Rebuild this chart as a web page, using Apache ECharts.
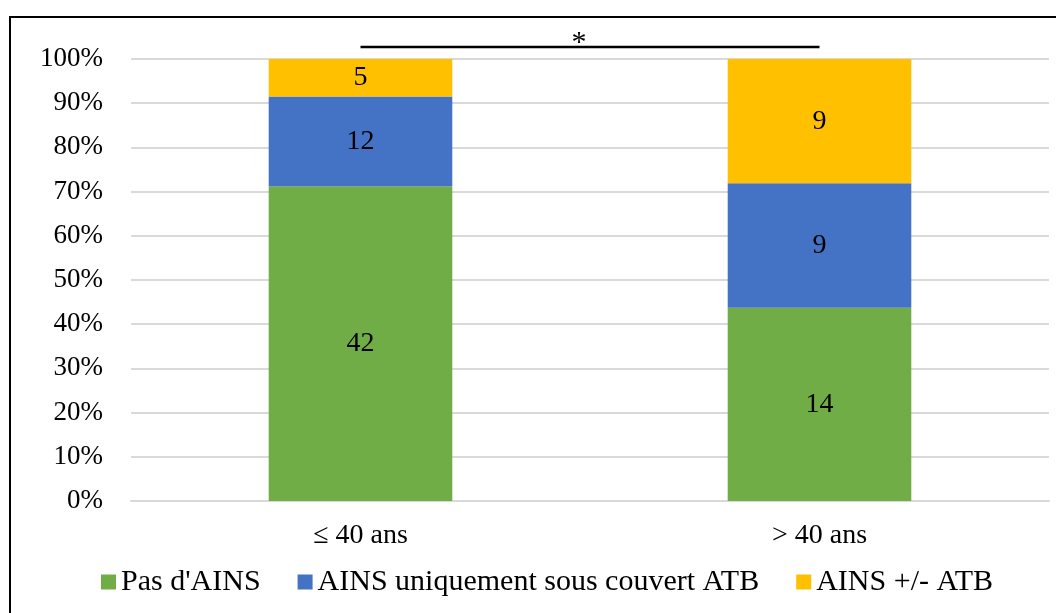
<!DOCTYPE html>
<html><head><meta charset="utf-8">
<script src="https://cdn.jsdelivr.net/npm/echarts@6/dist/echarts.min.js"></script>
<style>html,body{margin:0;padding:0;background:#fff}#c{width:1056px;height:613px}
#frame{position:absolute;left:9px;top:16px;width:1100px;height:700px;border:2px solid #000;box-sizing:border-box;pointer-events:none}</style>
</head><body><div id="c"></div><div id="frame"></div>
<script>
const categories = ['≤ 40 ans', '> 40 ans'];
const seriesNames = ["Pas d'AINS", 'AINS uniquement sous couvert ATB', 'AINS +/- ATB'];
const pasAINS = [42, 14];
const ainsSousATB = [12, 9];
const ainsPlusMoinsATB = [5, 9];
const yTicks = [0, 10, 20, 30, 40, 50, 60, 70, 80, 90, 100];
const colors = ['#70AD47', '#4472C4', '#FFC000'];
const sigLevel = 102.7;
const sigLabel = '*';

const counts = [pasAINS, ainsSousATB, ainsPlusMoinsATB];
const totals = categories.map((_, i) => counts.reduce((s, a) => s + a[i], 0));
const font = 'Liberation Serif, Times New Roman, serif';

const series = counts.map((arr, k) => ({
  name: seriesNames[k], type: 'bar', stack: 'tot', barWidth: '40%',
  itemStyle: { color: colors[k] },
  data: arr.map((v, i) => ({ value: v / totals[i] * 100, count: v })),
  label: { show: true, position: 'inside', color: '#000', fontFamily: font, fontSize: 28,
    formatter: p => p.data.count },
  emphasis: { disabled: true }
}));

const chart = echarts.init(document.getElementById('c'));
chart.setOption({
  animation: false,
  grid: { left: 131, right: 7, top: 59, bottom: 112 },
  xAxis: { type: 'category', data: categories,
    axisLine: { lineStyle: { color: '#d9d9d9', width: 2 } }, axisTick: { show: false },
    axisLabel: { color: '#000', fontFamily: font, fontSize: 28, margin: 21 } },
  yAxis: { type: 'value', min: 0, max: 100, interval: 10,
    axisLabel: { color: '#000', fontFamily: font, fontSize: 27, margin: 28, formatter: v => v + '%' },
    splitLine: { lineStyle: { color: '#d9d9d9', width: 2 } }, axisLine: { show: false }, axisTick: { show: false } },
  legend: { bottom: 11, left: 96, itemWidth: 15, itemHeight: 15, itemGap: 37, icon: 'rect',
    textStyle: { color: '#000', fontFamily: font, fontSize: 30 } },
  series
});
const p1 = chart.convertToPixel({ gridIndex: 0 }, [categories[0], sigLevel]);
const p2 = chart.convertToPixel({ gridIndex: 0 }, [categories[1], sigLevel]);
chart.setOption({
  graphic: [
    { type: 'line', shape: { x1: p1[0], y1: p1[1], x2: p2[0], y2: p2[1] }, style: { stroke: '#000', lineWidth: 2.5 }, silent: true },
    { type: 'text', x: (p1[0] + p2[0]) / 2 - 11, y: p1[1] + 11, silent: true,
      style: { text: sigLabel, font: '30px ' + font, fill: '#000', align: 'center', verticalAlign: 'bottom' } }
  ]
});
</script></body></html>
